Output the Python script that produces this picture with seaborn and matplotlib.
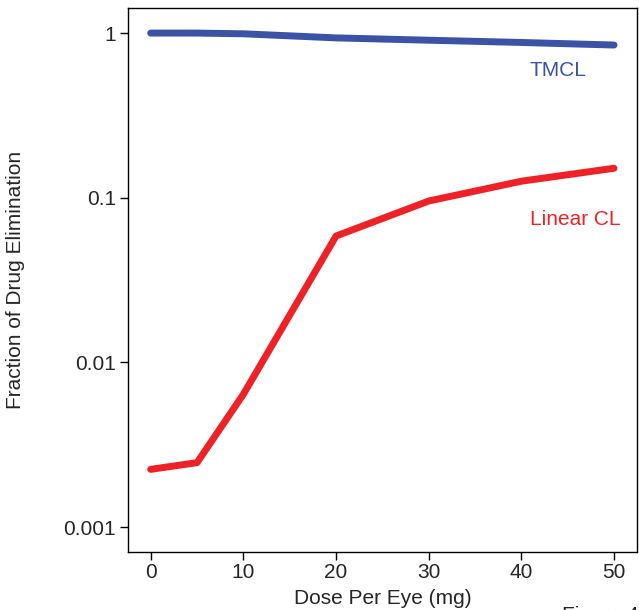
import numpy as np
import pandas as pd
import matplotlib
matplotlib.use("Agg")
import matplotlib.pyplot as plt
import seaborn as sns

# values
dose = [0, 5, 10, 20, 30, 40, 50]
tmcl = [1.0, 1.0, 0.99, 0.935, 0.905, 0.877, 0.846]
linear_cl = [0.00224, 0.00246, 0.0064, 0.0585, 0.0955, 0.126, 0.151]
series_names = ["TMCL", "Linear CL"]
colors = {"TMCL": "#3A53A4", "Linear CL": "#EE2226"}
ytick_vals = [0.001, 0.01, 0.1, 1]
ytick_labels = ["0.001", "0.01", "0.1", "1"]
xtick_vals = [0, 10, 20, 30, 40, 50]

df = pd.DataFrame({
    "dose": dose * 2,
    "frac": tmcl + linear_cl,
    "series": [series_names[0]] * len(dose) + [series_names[1]] * len(dose),
})

sns.set_style("ticks")
plt.rcParams["font.family"] = ["Liberation Sans", "DejaVu Sans"]

fig = plt.figure(figsize=(6.39, 6.10), dpi=100)
ax = fig.add_axes([0.2003, 0.0959, 0.7966, 0.8918])

sns.lineplot(data=df, x="dose", y="frac", hue="series", palette=colors,
             linewidth=5, legend=False, ax=ax)

ax.set_yscale("log")
ax.set_ylim(0.00071, 1.43)
ax.set_xlim(-2.45, 52.48)
ax.set_yticks(ytick_vals)
ax.set_yticklabels(ytick_labels)
ax.minorticks_off()
ax.set_xticks(xtick_vals)
ax.tick_params(labelsize=15, length=5.5, width=1, pad=3, color="black")

for sp in ax.spines.values():
    sp.set_visible(True)
    sp.set_color("black")
    sp.set_linewidth(1)

ax.set_xlabel("Dose Per Eye (mg)", fontsize=15, labelpad=5)
ax.set_ylabel("Fraction of Drug Elimination", fontsize=15, labelpad=28)

# inline series labels
ax.text(44, 0.59, "TMCL", color=colors["TMCL"], fontsize=15, ha="center", va="center")
ax.text(45.8, 0.074, "Linear CL", color=colors["Linear CL"], fontsize=15, ha="center", va="center")

# caption that sits mostly off the bottom edge, as in the reference
fig.text(562 / 639, 1 - 606 / 610, "Figure 4", fontsize=15, ha="left", va="top")

fig.savefig("out.png", dpi=100)
